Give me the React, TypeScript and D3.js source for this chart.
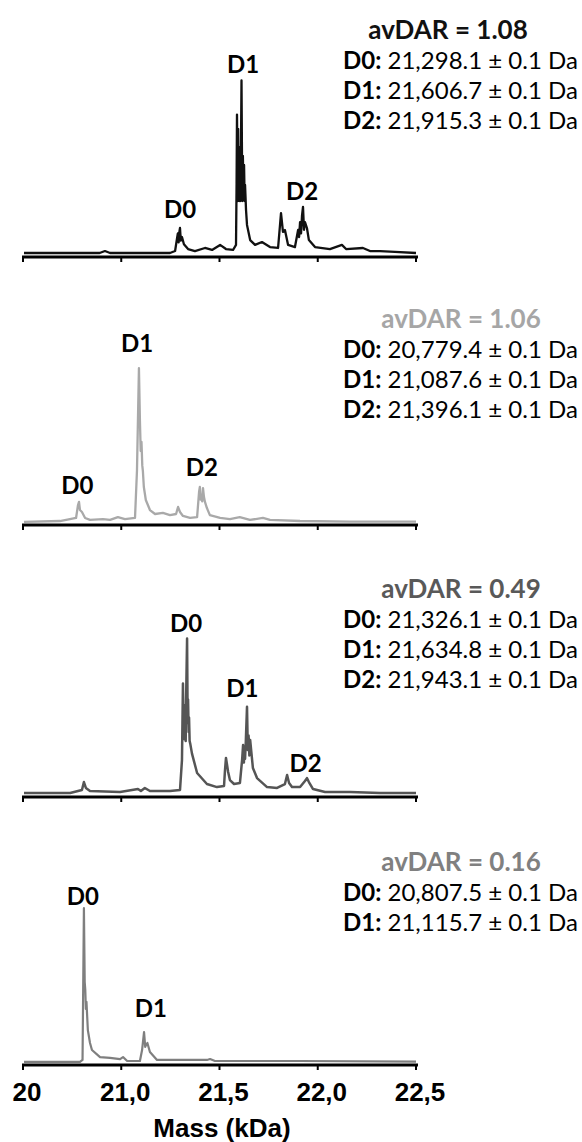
import React from "react";
import * as d3 from "d3";

// ---------- DATA ----------
const tickValues = [20.5, 21.0, 21.5, 22.0, 22.5];
const tickLabels = ["20", "21,0", "21,5", "22,0", "22,5"];
const xTitle = "Mass (kDa)";

const avDAR = ["1.08", "1.06", "0.49", "0.16"];

const massLines: string[][][] = [
  [["D0:", "21,298.1"], ["D1:", "21,606.7"], ["D2:", "21,915.3"]],
  [["D0:", "20,779.4"], ["D1:", "21,087.6"], ["D2:", "21,396.1"]],
  [["D0:", "21,326.1"], ["D1:", "21,634.8"], ["D2:", "21,943.1"]],
  [["D0:", "20,807.5"], ["D1:", "21,115.7"]],
];

// peak labels: [label, mass (kDa), intensity]
const peakLabels1: [string, number, number][] = [["D0", 21.299, 20.5], ["D1", 21.62, 101], ["D2", 21.92, 30.5]];
const peakLabels2: [string, number, number][] = [["D0", 20.777, 16], ["D1", 21.08, 95], ["D2", 21.41, 26]];
const peakLabels3: [string, number, number][] = [["D0", 21.33, 90.5], ["D1", 21.616, 54.5], ["D2", 21.938, 13]];
const peakLabels4: [string, number, number][] = [["D0", 20.805, 88], ["D1", 21.15, 25.5]];

// spectra: [mass (kDa), relative intensity]
const spectrum1: [number, number][] = [
  [20.505, 1.1], [20.89, 1.1], [20.917, 2.2], [20.943, 1.1], [21.248, 1.1], [21.274, 2.2],
  [21.284, 9.4], [21.288, 12], [21.292, 7], [21.296, 13], [21.299, 15], [21.303, 8], [21.309, 10],
  [21.319, 6], [21.34, 3.3], [21.375, 2.2], [21.426, 3.9], [21.462, 2.8], [21.503, 5.6],
  [21.533, 3.3], [21.569, 2.8], [21.584, 5.6], [21.587, 40], [21.589, 78], [21.591, 55],
  [21.593, 30], [21.595, 70], [21.597, 35], [21.599, 60], [21.601, 30], [21.604, 48],
  [21.607, 30], [21.612, 97], [21.615, 45], [21.617, 30], [21.619, 55], [21.622, 35],
  [21.625, 50], [21.628, 30], [21.63, 39], [21.635, 25], [21.64, 16.7], [21.656, 8.3],
  [21.681, 5.6], [21.716, 7.2], [21.757, 4.4], [21.798, 3.9], [21.808, 16.7], [21.813, 23.3],
  [21.823, 12.8], [21.833, 13.9], [21.849, 5.6], [21.884, 4.4], [21.9, 13.9], [21.905, 10],
  [21.91, 18.3], [21.915, 12], [21.92, 22], [21.925, 26.7], [21.93, 14], [21.935, 18.3],
  [21.945, 15], [21.955, 8.3], [21.986, 4.4], [22.062, 3.3], [22.123, 5.6], [22.144, 3.3],
  [22.23, 3.9], [22.266, 2.2], [22.317, 2.2], [22.393, 1.7], [22.5, 1.1],
];

const spectrum2: [number, number][] = [
  [20.505, 0.6], [20.688, 1.1], [20.77, 2.8], [20.78, 10], [20.785, 11.7], [20.79, 7.2],
  [20.8, 6.1], [20.816, 2.8], [20.841, 1.7], [20.907, 2.2], [20.943, 1.7], [20.983, 3.3],
  [21.019, 2.2], [21.07, 2.8], [21.08, 29], [21.09, 86], [21.095, 57], [21.099, 40],
  [21.103, 45], [21.107, 32], [21.11, 29], [21.115, 20], [21.125, 12.8], [21.146, 7.2],
  [21.172, 5], [21.212, 5.6], [21.248, 4.4], [21.279, 5], [21.289, 8.9], [21.299, 6.1],
  [21.314, 3.9], [21.35, 2.8], [21.386, 3.3], [21.396, 17.2], [21.4, 20], [21.404, 13],
  [21.408, 15.6], [21.412, 12], [21.416, 19.4], [21.421, 14.4], [21.426, 11.7], [21.436, 8.3],
  [21.451, 4.4], [21.503, 2.8], [21.553, 2.2], [21.603, 3.3], [21.655, 1.7], [21.721, 2.8],
  [21.757, 1.7], [21.91, 1.1], [22.164, 0.8], [22.5, 0.8],
];

const spectrum3: [number, number][] = [
  [20.505, 1.1], [20.74, 1.1], [20.8, 2.8], [20.81, 7.2], [20.82, 3.9], [20.841, 2.2],
  [20.994, 1.7], [21.085, 3.3], [21.1, 2.2], [21.12, 3.9], [21.146, 2.2], [21.248, 2.2],
  [21.299, 2.8], [21.309, 19.4], [21.314, 62], [21.317, 35], [21.32, 50], [21.322, 31],
  [21.325, 45], [21.328, 30], [21.33, 53], [21.335, 87], [21.338, 40], [21.34, 53],
  [21.343, 35], [21.345, 43], [21.348, 30], [21.352, 28], [21.36, 23], [21.386, 12.2],
  [21.436, 6.1], [21.487, 4.4], [21.523, 5], [21.528, 13.9], [21.533, 20.6], [21.544, 12.8],
  [21.553, 8.3], [21.574, 6.1], [21.604, 6.7], [21.615, 19.4], [21.62, 27.8], [21.624, 18],
  [21.627, 26], [21.63, 20], [21.634, 30], [21.64, 49], [21.644, 25], [21.648, 33],
  [21.652, 22], [21.656, 30.6], [21.67, 15], [21.691, 9.4], [21.742, 4.4], [21.793, 3.9],
  [21.833, 6.1], [21.844, 11.1], [21.854, 6.7], [21.869, 4.4], [21.91, 4.4], [21.935, 7.8],
  [21.945, 9.4], [21.955, 7.2], [21.976, 3.3], [22.037, 1.7], [22.164, 1.7], [22.317, 1.1],
  [22.5, 1.1],
];

const spectrum4: [number, number][] = [
  [20.505, 0.6], [20.79, 0.6], [20.803, 1.7], [20.81, 86], [20.814, 45], [20.817, 40.6],
  [20.82, 30], [20.823, 34], [20.83, 18.3], [20.841, 11.1], [20.851, 7.2], [20.892, 3.3],
  [20.943, 2.8], [20.994, 2.2], [21.009, 3.3], [21.03, 1.1], [21.095, 1.1], [21.106, 7.2],
  [21.116, 17.2], [21.122, 9], [21.126, 10], [21.133, 11.1], [21.146, 6.1], [21.182, 1.7],
  [21.299, 1.7], [21.436, 1.7], [21.452, 2.2], [21.477, 1.1], [21.91, 1.1], [22.5, 0.8],
];

const spectra = [spectrum1, spectrum2, spectrum3, spectrum4];
const peakLabels = [peakLabels1, peakLabels2, peakLabels3, peakLabels4];

// ---------- LAYOUT / STYLE ----------
const W = 582;
const H = 1142;
const axisYs = [257, 525, 797, 1065];
const traceColors = ["#111111", "#a9a9a9", "#555555", "#7f7f7f"];
const darColors = ["#111111", "#a6a6a6", "#595959", "#808080"];
const traceWidths = [2.3, 2.3, 2.5, 2.2];
const darBaselines = [39, 328, 598, 871];
const darCenters = [448, 461, 461, 461];
const lineGap = 30;

const x = d3.scaleLinear().domain([20.5, 22.5]).range([23, 416]);

const LATO = "Lato, Carlito, Calibri, 'Open Sans', sans-serif";
const ARIAL = "'Liberation Sans', Arial, Helvetica, sans-serif";

export default function App() {
  return (
    <svg
      width={W}
      height={H}
      style={{ position: "absolute", left: 0, top: 0, background: "#fff" }}
      xmlns="http://www.w3.org/2000/svg"
    >
      <rect x={0} y={0} width={W} height={H} fill="#fff" />
      {spectra.map((data, i) => {
        const axisY = axisYs[i];
        const y = d3.scaleLinear().domain([0, 100]).range([axisY - 2, axisY - 182]);
        const line = d3
          .line<[number, number]>()
          .x((d) => x(d[0]))
          .y((d) => y(d[1]))
          .curve(d3.curveLinear);
        return (
          <g key={i}>
            <path
              d={line(data) || ""}
              fill="none"
              stroke={traceColors[i]}
              strokeWidth={traceWidths[i]}
              strokeLinejoin="round"
            />
            {/* axis */}
            <line x1={22} x2={418} y1={axisY} y2={axisY} stroke="#000" strokeWidth={3} />
            {tickValues.map((t, k) => (
              <line key={k} x1={x(t)} x2={x(t)} y1={axisY} y2={axisY + 5} stroke="#000" strokeWidth={2} />
            ))}
            {/* peak labels */}
            {peakLabels[i].map(([lab, m, v], k) => (
              <text
                key={k}
                x={x(m)}
                y={y(v)}
                textAnchor="middle"
                fontFamily={LATO}
                fontWeight={700}
                fontSize={24}
                fill="#000"
              >
                {lab}
              </text>
            ))}
            {/* right text block */}
            <text
              x={darCenters[i]}
              y={darBaselines[i]}
              textAnchor="middle"
              fontFamily={LATO}
              fontWeight={700}
              fontSize={26}
              fill={darColors[i]}
            >
              {`avDAR = ${avDAR[i]}`}
            </text>
            {massLines[i].map(([d, val], k) => (
              <text
                key={k}
                x={343}
                y={darBaselines[i] + (k + 1) * lineGap}
                fontFamily={LATO}
                fontSize={24}
                fill="#000"
              >
                <tspan fontWeight={700}>{d}</tspan>
                <tspan>{` ${val} ± 0.1 Da`}</tspan>
              </text>
            ))}
          </g>
        );
      })}
      {/* tick labels on bottom axis */}
      {tickValues.map((t, k) => (
        <text
          key={k}
          x={x(t) + 4}
          y={1101}
          textAnchor="middle"
          fontFamily={ARIAL}
          fontWeight={700}
          fontSize={26}
          fill="#000"
        >
          {tickLabels[k]}
        </text>
      ))}
      <text
        x={222}
        y={1137}
        textAnchor="middle"
        fontFamily={ARIAL}
        fontWeight={700}
        fontSize={26}
        fill="#000"
      >
        {xTitle}
      </text>
    </svg>
  );
}
